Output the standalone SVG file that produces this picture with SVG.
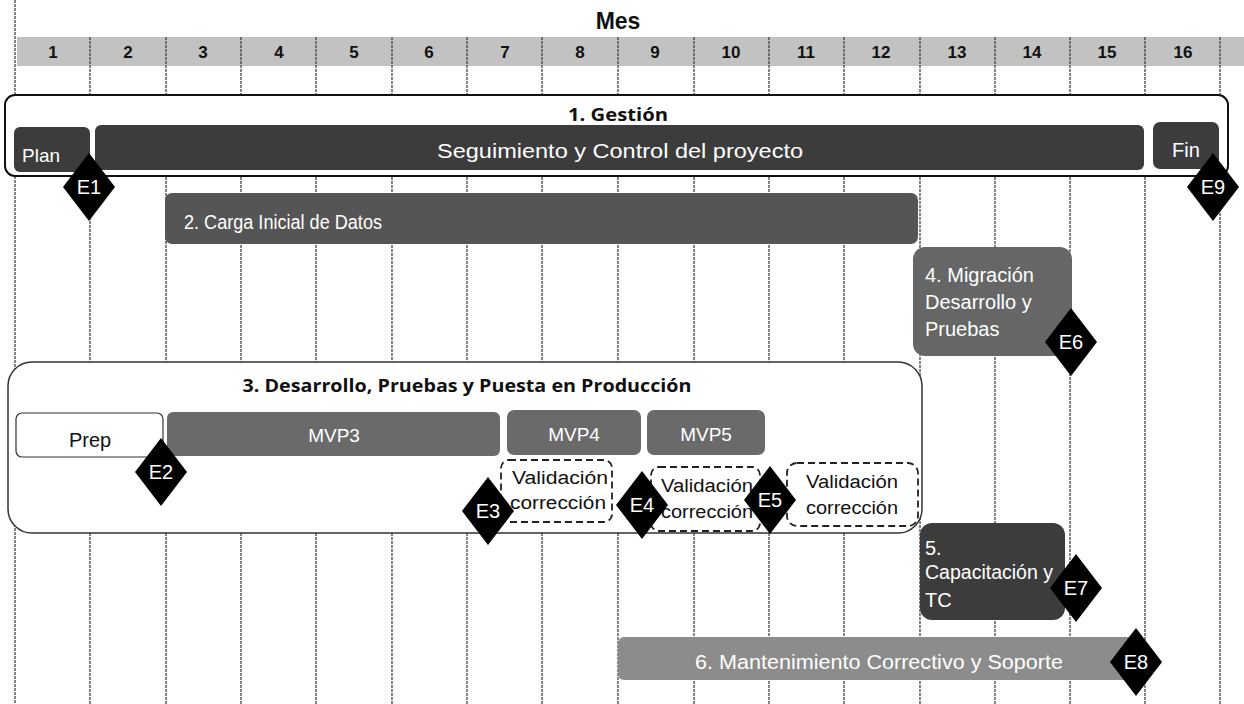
<svg xmlns="http://www.w3.org/2000/svg" width="1244" height="704" viewBox="0 0 1244 704">
<style>
.grid{stroke:#444;stroke-width:1.3;stroke-dasharray:3 1}
.num{font-family:"Liberation Sans",Arial,sans-serif;font-size:17px;font-weight:bold;fill:#111;text-anchor:middle}
.ttl{font-family:"Open Sans","Liberation Sans",sans-serif;font-size:18px;font-weight:bold;fill:#111;text-anchor:middle}
.wt{font-family:"Liberation Sans",Arial,sans-serif;font-size:19px;fill:#fff}
.bk{font-family:"Liberation Sans",Arial,sans-serif;font-size:18px;fill:#111}
.mid{text-anchor:middle}
.dk{fill:#3c3c3c}
.dia{fill:#000}
.dt{font-family:"Liberation Sans",Arial,sans-serif;font-size:20px;fill:#fff;text-anchor:middle}
.dash{fill:#fff;stroke:#222;stroke-width:1.8;stroke-dasharray:7 4}
</style>
<rect width="1244" height="704" fill="#fff"/>
<g id="header">
<rect x="17" y="37" width="1227" height="29" fill="#c2c2c2"/>
<text x="618" y="29" font-family="Liberation Sans, Arial, sans-serif" font-size="23" font-weight="bold" fill="#111" text-anchor="middle">Mes</text>
<text class="num" x="53" y="58">1</text>
<text class="num" x="128" y="58">2</text>
<text class="num" x="203" y="58">3</text>
<text class="num" x="279" y="58">4</text>
<text class="num" x="354" y="58">5</text>
<text class="num" x="429" y="58">6</text>
<text class="num" x="505" y="58">7</text>
<text class="num" x="580" y="58">8</text>
<text class="num" x="655" y="58">9</text>
<text class="num" x="731" y="58">10</text>
<text class="num" x="806" y="58">11</text>
<text class="num" x="881" y="58">12</text>
<text class="num" x="957" y="58">13</text>
<text class="num" x="1032" y="58">14</text>
<text class="num" x="1107" y="58">15</text>
<text class="num" x="1183" y="58">16</text>
</g>
<g id="gridlines">
<line class="grid" x1="15" y1="0" x2="15" y2="704"/>
<line class="grid" x1="90" y1="37" x2="90" y2="704"/>
<line class="grid" x1="166" y1="37" x2="166" y2="704"/>
<line class="grid" x1="241" y1="37" x2="241" y2="704"/>
<line class="grid" x1="316" y1="37" x2="316" y2="704"/>
<line class="grid" x1="392" y1="37" x2="392" y2="704"/>
<line class="grid" x1="467" y1="37" x2="467" y2="704"/>
<line class="grid" x1="542" y1="37" x2="542" y2="704"/>
<line class="grid" x1="618" y1="37" x2="618" y2="704"/>
<line class="grid" x1="694" y1="37" x2="694" y2="704"/>
<line class="grid" x1="769" y1="37" x2="769" y2="704"/>
<line class="grid" x1="844" y1="37" x2="844" y2="704"/>
<line class="grid" x1="920" y1="37" x2="920" y2="704"/>
<line class="grid" x1="995" y1="37" x2="995" y2="704"/>
<line class="grid" x1="1070" y1="37" x2="1070" y2="704"/>
<line class="grid" x1="1145" y1="37" x2="1145" y2="704"/>
<line class="grid" x1="1220" y1="37" x2="1220" y2="704"/>
</g>
<g id="gestion">
<rect x="5" y="95" width="1223" height="81" rx="10" fill="#fff" stroke="#111" stroke-width="2"/>
<text class="ttl" x="618" y="121" textLength="100" lengthAdjust="spacingAndGlyphs">1. Gestión</text>
</g>
<g id="plan">
<rect class="dk" x="14" y="127" width="76" height="45" rx="6"/>
<text class="wt" x="22" y="162" font-size="20">Plan</text>
</g>
<g id="seguimiento">
<rect class="dk" x="95" y="125" width="1049" height="45" rx="6"/>
<text class="wt" x="437" y="158" style="font-size:21px" textLength="366" lengthAdjust="spacingAndGlyphs">Seguimiento y Control del proyecto</text>
</g>
<g id="fin">
<rect class="dk" x="1153" y="122" width="66" height="47" rx="7"/>
<text class="wt" x="1172" y="157" style="font-size:20px">Fin</text>
</g>
<g id="carga">
<rect x="165" y="193" width="753" height="51" rx="7" fill="#555"/>
<text class="wt" x="184" y="229" style="font-size:20px" textLength="198" lengthAdjust="spacingAndGlyphs">2. Carga Inicial de Datos</text>
</g>
<g id="migracion">
<rect x="913" y="247" width="159" height="109" rx="12" fill="#666"/>
<text class="wt" x="925" y="282" style="font-size:20px">4. Migración</text>
<text class="wt" x="925" y="309" style="font-size:20px">Desarrollo y</text>
<text class="wt" x="925" y="336" style="font-size:20px">Pruebas</text>
</g>
<g id="desarrollo">
<rect x="8" y="362" width="914" height="171" rx="24" fill="#fff" stroke="#333" stroke-width="1.5"/>
<text class="ttl" x="467" y="392" textLength="449" lengthAdjust="spacingAndGlyphs">3. Desarrollo, Pruebas y Puesta en Producción</text>
</g>
<g id="prep">
<rect x="16" y="413" width="147" height="44" rx="6" fill="#fff" stroke="#333" stroke-width="1.2"/>
<text class="bk mid" x="90" y="447" style="font-size:20px">Prep</text>
</g>
<g id="mvp3">
<rect x="167" y="412" width="333" height="44" rx="6" fill="#6a6a6a"/>
<text class="wt mid" x="334" y="442">MVP3</text>
</g>
<g id="mvp4">
<rect x="507" y="410" width="134" height="45" rx="7" fill="#6a6a6a"/>
<text class="wt mid" x="574" y="441">MVP4</text>
</g>
<g id="mvp5">
<rect x="647" y="410" width="118" height="45" rx="7" fill="#6a6a6a"/>
<text class="wt mid" x="706" y="441">MVP5</text>
</g>
<g id="validacion1">
<rect class="dash" x="501" y="460" width="111" height="62" rx="8"/>
<text class="bk mid" x="560" y="484" textLength="96" lengthAdjust="spacingAndGlyphs">Validación</text>
<text class="bk mid" x="558" y="509" textLength="96" lengthAdjust="spacingAndGlyphs">corrección</text>
</g>
<g id="validacion2">
<rect class="dash" x="651" y="467" width="109" height="64" rx="8"/>
<text class="bk mid" x="707" y="492" textLength="92" lengthAdjust="spacingAndGlyphs">Validación</text>
<text class="bk mid" x="707" y="518" textLength="92" lengthAdjust="spacingAndGlyphs">corrección</text>
</g>
<g id="validacion3">
<rect class="dash" x="787" y="463" width="131" height="63" rx="10"/>
<text class="bk mid" x="852" y="488" textLength="92" lengthAdjust="spacingAndGlyphs">Validación</text>
<text class="bk mid" x="852" y="514" textLength="92" lengthAdjust="spacingAndGlyphs">corrección</text>
</g>
<g id="capacitacion">
<rect class="dk" x="920" y="523" width="145" height="97" rx="12"/>
<text class="wt" x="925" y="555" style="font-size:20px">5.</text>
<text class="wt" x="925" y="579" style="font-size:20px" textLength="128" lengthAdjust="spacingAndGlyphs">Capacitación y</text>
<text class="wt" x="925" y="607" style="font-size:20px">TC</text>
</g>
<g id="mantenimiento">
<rect x="618" y="637" width="522" height="43" rx="6" fill="#8c8c8c"/>
<text class="wt" x="695" y="669" style="font-size:20px" textLength="368" lengthAdjust="spacingAndGlyphs">6. Mantenimiento Correctivo y Soporte</text>
</g>
<g id="connectors"></g>
<g id="E1"><polygon class="dia" points="89,153 115,187 89,221 63,187"/><text class="dt" x="89" y="194">E1</text></g>
<g id="E2"><polygon class="dia" points="161,438 187,472 161,506 135,472"/><text class="dt" x="161" y="479">E2</text></g>
<g id="E3"><polygon class="dia" points="488,477 514,511 488,545 462,511"/><text class="dt" x="488" y="518">E3</text></g>
<g id="E4"><polygon class="dia" points="642,471 668,505 642,539 616,505"/><text class="dt" x="642" y="512">E4</text></g>
<g id="E5"><polygon class="dia" points="770,466 796,500 770,534 744,500"/><text class="dt" x="770" y="507">E5</text></g>
<g id="E6"><polygon class="dia" points="1071,308 1097,342 1071,376 1045,342"/><text class="dt" x="1071" y="349">E6</text></g>
<g id="E7"><polygon class="dia" points="1076,554 1102,588 1076,622 1050,588"/><text class="dt" x="1076" y="595">E7</text></g>
<g id="E8"><polygon class="dia" points="1136,628 1162,662 1136,696 1110,662"/><text class="dt" x="1136" y="669">E8</text></g>
<g id="E9"><polygon class="dia" points="1213,153 1239,187 1213,221 1187,187"/><text class="dt" x="1213" y="194">E9</text></g>
</svg>
